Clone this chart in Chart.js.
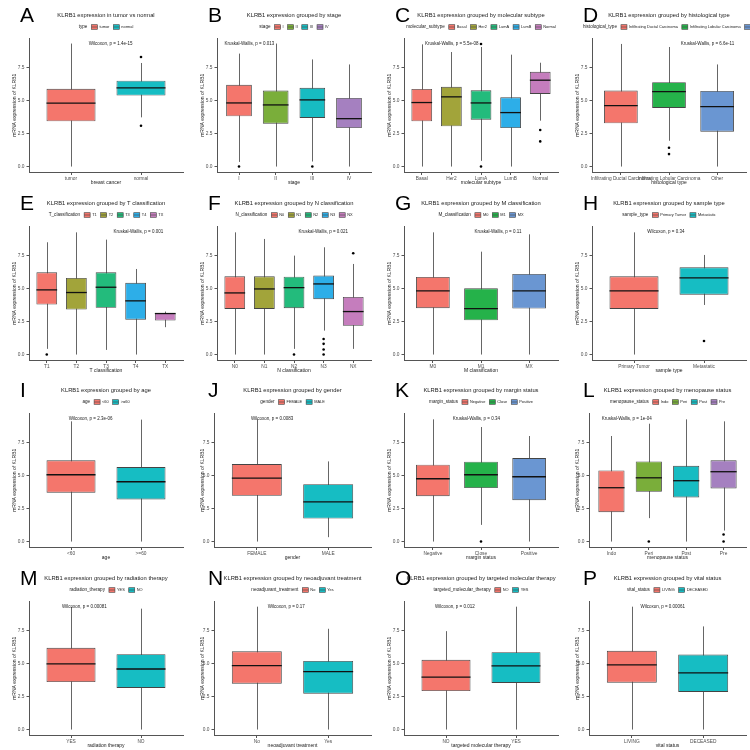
<!DOCTYPE html>
<html>
<head>
<meta charset="utf-8">
<script src="https://cdn.jsdelivr.net/npm/chart.js@4.4.0/dist/chart.umd.min.js"></script>
<style>
  body { margin: 0; background: #fff; }
  #grid { position: relative; width: 750px; height: 750px; overflow: hidden; }
  .panel { position: absolute; width: 188px; height: 188px; }
</style>
</head>
<body>
<div id="grid"></div>
<script>
// five-number summaries: [lower whisker, Q1, median, Q3, upper whisker]
const yTicks = [0, 2.5, 5, 7.5];

const catsA = ['tumor', 'normal'];
const boxA = [[0, 3.42, 4.79, 5.88, 9.3], [3.72, 5.37, 5.95, 6.49, 7.83]];
const outA = [[], [8.28, 3.09]];

const catsB = ['I', 'II', 'III', 'IV'];
const boxB = [[0.35, 3.8, 4.81, 6.18, 8.54], [0, 3.24, 4.66, 5.75, 9.3], [0.38, 3.67, 5.04, 5.95, 8.1], [0, 2.91, 3.62, 5.19, 7.72]];
const outB = [[0], [], [0], []];

const catsC = ['Basal', 'Her2', 'LumA', 'LumB', 'Normal'];
const boxC = [[0, 3.42, 4.84, 5.87, 9.24], [0, 3.04, 5.27, 6.03, 8.66], [0.43, 3.54, 4.81, 5.77, 9.04], [0, 2.91, 4.08, 5.24, 8.46], [3.47, 5.49, 6.53, 7.16, 7.85]];
const outC = [[], [], [9.27, 0], [], [2.76, 1.9]];

const catsD = ['Infiltrating Ductal Carcinoma', 'Infiltrating Lobular Carcinoma', 'Other'];
const boxD = [[0, 3.27, 4.61, 5.75, 9.27], [1.95, 4.43, 5.67, 6.38, 9.04], [0, 2.63, 4.53, 5.72, 7.72]];
const outD = [[], [1.42, 0.94], []];

const catsE = ['T1', 'T2', 'T3', 'T4', 'TX'];
const boxE = [[0.43, 3.78, 4.89, 6.22, 8.49], [0, 3.4, 4.69, 5.79, 9.24], [0.35, 3.53, 5.09, 6.22, 8.69], [0, 2.64, 4.06, 5.42, 6.47], [2.07, 2.57, 3.1, 3.15, 3.25]];
const outE = [[0], [], [], [], []];

const catsF = ['N0', 'N1', 'N2', 'N3', 'NX'];
const boxF = [[0, 3.45, 4.66, 5.92, 9.24], [0, 3.45, 4.96, 5.92, 8.74], [0.43, 3.5, 5.06, 5.89, 7.48], [1.81, 4.18, 5.34, 5.97, 8.11], [0.43, 2.17, 3.25, 4.36, 6.85]];
const outF = [[], [], [0], [1.18, 0.81, 0.38, 0], [7.66]];

const catsG = ['M0', 'M1', 'MX'];
const boxG = [[0, 3.5, 4.81, 5.87, 9.24], [0, 2.59, 3.48, 5.01, 7.78], [0, 3.48, 4.81, 6.1, 9.09]];
const outG = [[], [], []];

const catsH = ['Primary Tumor', 'Metastatic'];
const boxH = [[0, 3.45, 4.81, 5.92, 9.24], [3.75, 4.53, 5.79, 6.6, 7.53]];
const outH = [[], [1.03]];

const catsI = ['<60', '>=60'];
const boxI = [[0, 3.69, 5.05, 6.14, 9.09], [0, 3.18, 4.52, 5.63, 9.22]];
const outI = [[], []];

const catsJ = ['FEMALE', 'MALE'];
const boxJ = [[0, 3.46, 4.8, 5.86, 9.24], [0.33, 1.74, 3.0, 4.34, 6.06]];
const outJ = [[], []];

const catsK = ['Negative', 'Close', 'Positive'];
const boxK = [[0, 3.43, 4.75, 5.81, 9.24], [1.26, 4.04, 5.05, 6.04, 8.66], [0, 3.13, 4.9, 6.31, 7.98]];
const outK = [[], [0], []];

const catsL = ['Indo', 'Peri', 'Post', 'Pre'];
const boxL = [[0, 2.22, 4.07, 5.38, 7.98], [1.77, 3.76, 4.82, 6.06, 8.91], [0, 3.33, 4.6, 5.73, 9.24], [0.83, 4.02, 5.28, 6.14, 9.09]];
const outL = [[], [0], [], [0.53, 0]];

const catsM = ['YES', 'NO'];
const boxM = [[0, 3.59, 4.96, 6.18, 9.27], [0, 3.14, 4.58, 5.7, 9.14]];
const outM = [[], []];

const catsN = ['No', 'Yes'];
const boxN = [[0, 3.47, 4.84, 5.92, 9.29], [0, 2.71, 4.38, 5.19, 7.62]];
const outN = [[], []];

const catsO = ['NO', 'YES'];
const boxO = [[0, 2.91, 3.97, 5.27, 7.44], [0, 3.52, 4.81, 5.85, 9.29]];
const outO = [[], []];

const catsP = ['LIVING', 'DECEASED'];
const boxP = [[0, 3.54, 4.89, 5.95, 9.29], [0, 2.84, 4.28, 5.67, 7.8]];
const outP = [[], []];

// palettes (ggplot hue)
const pal2 = ['#F4766C', '#16BDC3'];
const pal3 = ['#F4766C', '#25B24A', '#6A96D2'];
const pal4 = ['#F4766C', '#7AAE3A', '#17BCC2', '#A580C0'];
const pal5 = ['#F4766C', '#A2A43A', '#23BB7C', '#2DAEE8', '#C57DBD'];

const panels = [
  { letter: 'A', title: 'KLRB1 expression in tumor vs normal', leg: 'type', xTitle: 'breast cancer', p: 'Wilcoxon, p = 1.4e-15', px: 0.53, cats: catsA, box: boxA, out: outA, pal: pal2 },
  { letter: 'B', title: 'KLRB1 expression grouped by stage', leg: 'stage', xTitle: 'stage', p: 'Kruskal-Wallis, p = 0.013', px: 0.21, cats: catsB, box: boxB, out: outB, pal: pal4 },
  { letter: 'C', title: 'KLRB1 expression grouped by molecular subtype', leg: 'molecular_subtype', xTitle: 'molecular subtype', p: 'Kruskal-Wallis, p = 5.5e-08', px: 0.31, cats: catsC, box: boxC, out: outC, pal: pal5 },
  { letter: 'D', title: 'KLRB1 expression grouped by histological type', leg: 'histological_type', xTitle: 'histological type', p: 'Kruskal-Wallis, p = 6.6e-11', px: 0.75, cats: catsD, box: boxD, out: outD, pal: pal3 },
  { letter: 'E', title: 'KLRB1 expression grouped by T classification', leg: 'T_classification', xTitle: 'T classification', p: 'Kruskal-Wallis, p = 0.001', px: 0.71, cats: catsE, box: boxE, out: outE, pal: pal5 },
  { letter: 'F', title: 'KLRB1 expression grouped by N classification', leg: 'N_classification', xTitle: 'N classification', p: 'Kruskal-Wallis, p = 0.021', px: 0.69, cats: catsF, box: boxF, out: outF, pal: pal5 },
  { letter: 'G', title: 'KLRB1 expression grouped by M classification', leg: 'M_classification', xTitle: 'M classification', p: 'Kruskal-Wallis, p = 0.11', px: 0.61, cats: catsG, box: boxG, out: outG, pal: pal3 },
  { letter: 'H', title: 'KLRB1 expression grouped by sample type', leg: 'sample_type', xTitle: 'sample type', p: 'Wilcoxon, p = 0.34', px: 0.48, cats: catsH, box: boxH, out: outH, pal: pal2 },
  { letter: 'I', title: 'KLRB1 expression grouped by age', leg: 'age', xTitle: 'age', p: 'Wilcoxon, p = 2.3e-06', px: 0.40, cats: catsI, box: boxI, out: outI, pal: pal2 },
  { letter: 'J', title: 'KLRB1 expression grouped by gender', leg: 'gender', xTitle: 'gender', p: 'Wilcoxon, p = 0.0083', px: 0.37, cats: catsJ, box: boxJ, out: outJ, pal: pal2 },
  { letter: 'K', title: 'KLRB1 expression grouped by margin status', leg: 'margin_status', xTitle: 'margin status', p: 'Kruskal-Wallis, p = 0.34', px: 0.47, cats: catsK, box: boxK, out: outK, pal: pal3 },
  { letter: 'L', title: 'KLRB1 expression grouped by menopause status', leg: 'menopause_status', xTitle: 'menopause status', p: 'Kruskal-Wallis, p = 1e-04', px: 0.24, cats: catsL, box: boxL, out: outL, pal: pal4 },
  { letter: 'M', title: 'KLRB1 expression grouped by radiation therapy', leg: 'radiation_therapy', xTitle: 'radiation therapy', p: 'Wilcoxon, p = 0.00081', px: 0.36, cats: catsM, box: boxM, out: outM, pal: pal2 },
  { letter: 'N', title: 'KLRB1 expression grouped by neoadjuvant treatment', leg: 'neoadjuvant_treatment', xTitle: 'neoadjuvant treatment', p: 'Wilcoxon, p = 0.17', px: 0.46, cats: catsN, box: boxN, out: outN, pal: pal2 },
  { letter: 'O', title: 'KLRB1 expression grouped by targeted molecular therapy', leg: 'targeted_molecular_therapy', xTitle: 'targeted molecular therapy', p: 'Wilcoxon, p = 0.012', px: 0.33, cats: catsO, box: boxO, out: outO, pal: pal2 },
  { letter: 'P', title: 'KLRB1 expression grouped by vital status', leg: 'vital_status', xTitle: 'vital status', p: 'Wilcoxon, p = 0.00061', px: 0.47, cats: catsP, box: boxP, out: outP, pal: pal2 }
];

const FONT = '"Liberation Sans", Arial, Helvetica, sans-serif';
const AXIS = '#555';

function makeDecor(p) {
  return {
    id: 'decor',
    beforeDatasetsDraw(chart) {
      // whiskers
      const ctx = chart.ctx, x = chart.scales.x, y = chart.scales.y;
      ctx.save();
      ctx.strokeStyle = '#666';
      ctx.lineWidth = 1;
      p.box.forEach((b, i) => {
        const px = Math.round(x.getPixelForValue(i + 1)) + 0.5;
        ctx.beginPath();
        ctx.moveTo(px, y.getPixelForValue(b[0]));
        ctx.lineTo(px, y.getPixelForValue(b[4]));
        ctx.stroke();
      });
      ctx.restore();
    },
    afterDatasetsDraw(chart) {
      // medians
      const ctx = chart.ctx, y = chart.scales.y;
      const bars = chart.getDatasetMeta(0).data;
      ctx.save();
      ctx.strokeStyle = '#111';
      ctx.lineWidth = 1.3;
      p.box.forEach((b, i) => {
        const bar = bars[i];
        const py = y.getPixelForValue(b[2]);
        ctx.beginPath();
        ctx.moveTo(bar.x - bar.width / 2, py);
        ctx.lineTo(bar.x + bar.width / 2, py);
        ctx.stroke();
      });
      ctx.restore();
    },
    afterDraw(chart) {
      const ctx = chart.ctx, area = chart.chartArea, y = chart.scales.y;
      const cx = (area.left + area.right) / 2;
      ctx.save();
      ctx.fillStyle = '#000';
      // panel letter
      ctx.font = '21px ' + FONT;
      ctx.textAlign = 'left';
      ctx.textBaseline = 'alphabetic';
      ctx.fillText(p.letter, 20, 22);
      // title
      ctx.font = '5.8px ' + FONT;
      ctx.textAlign = 'center';
      ctx.textBaseline = 'middle';
      ctx.fillStyle = '#1a1a1a';
      ctx.fillText(p.title, cx, 15.5);
      // legend
      const titleFont = '4.6px ' + FONT, labFont = '3.9px ' + FONT;
      ctx.font = titleFont;
      const tw = ctx.measureText(p.leg).width;
      ctx.font = labFont;
      const widths = p.cats.map(c => ctx.measureText(c).width);
      const keyW = 6, gapT = 4, gapK = 2, gapI = 4;
      let total = tw + gapT;
      widths.forEach(w => { total += keyW + gapK + w + gapI; });
      total -= gapI;
      let lx = Math.max(area.left - 9, cx - total / 2);
      const ly = 27;
      ctx.textAlign = 'left';
      ctx.font = titleFont;
      ctx.fillText(p.leg, lx, ly);
      lx += tw + gapT;
      ctx.font = labFont;
      p.cats.forEach((c, i) => {
        ctx.fillStyle = p.pal[i];
        ctx.fillRect(lx, ly - 2.3, keyW, 4.6);
        ctx.strokeStyle = '#444';
        ctx.lineWidth = 0.6;
        ctx.strokeRect(lx, ly - 2.3, keyW, 4.6);
        ctx.beginPath();
        ctx.moveTo(lx, ly);
        ctx.lineTo(lx + keyW, ly);
        ctx.stroke();
        lx += keyW + gapK;
        ctx.fillStyle = '#1a1a1a';
        ctx.fillText(c, lx, ly);
        lx += widths[i] + gapI;
      });
      // test annotation
      ctx.font = '4.5px ' + FONT;
      ctx.textAlign = 'center';
      ctx.fillStyle = '#1a1a1a';
      ctx.fillText(p.p, area.left + p.px * (area.right - area.left), y.getPixelForValue(9.3));
      ctx.restore();
    }
  };
}

const grid = document.getElementById('grid');
panels.forEach((p, k) => {
  const row = Math.floor(k / 4), col = k % 4;
  const div = document.createElement('div');
  div.className = 'panel';
  div.style.left = Math.round(col * 187.5) + 'px';
  div.style.top = Math.round(row * 187.5) + 'px';
  const canvas = document.createElement('canvas');
  div.appendChild(canvas);
  grid.appendChild(div);

  const plotLeft = (row >= 2 && col % 2 === 1) ? 26 : 29;
  const n = p.cats.length;
  const outPts = [];
  p.out.forEach((vals, i) => vals.forEach(v => outPts.push({ x: i + 1, y: v })));

  new Chart(canvas, {
    type: 'bar',
    data: {
      datasets: [{
        type: 'bar',
        data: p.box.map((b, i) => ({ x: i + 1, y: [b[1], b[3]] })),
        backgroundColor: p.pal,
        borderColor: '#444',
        borderWidth: 0.9,
        borderSkipped: false,
        barPercentage: 0.7,
        categoryPercentage: 1,
        order: 2
      }, {
        type: 'line',
        data: outPts,
        showLine: false,
        pointRadius: 1.3,
        pointBackgroundColor: '#000',
        pointBorderWidth: 0,
        order: 1
      }]
    },
    options: {
      responsive: true,
      maintainAspectRatio: false,
      animation: false,
      layout: { padding: { top: 38, right: 5, left: 0, bottom: 0 } },
      plugins: {
        legend: { display: false },
        title: { display: false },
        tooltip: { enabled: false }
      },
      scales: {
        x: {
          type: 'linear',
          min: 0.4,
          max: n + 0.6,
          offset: false,
          afterBuildTicks: s => { s.ticks = p.cats.map((c, i) => ({ value: i + 1 })); },
          grid: { display: true, offset: false, drawOnChartArea: false, drawTicks: true, tickLength: 2.5, color: AXIS },
          border: { display: true, color: AXIS, width: 1 },
          ticks: { font: { family: FONT, size: 4.8 }, color: '#4d4d4d', padding: 0.5, minRotation: 0, maxRotation: 0, autoSkip: false, callback: v => p.cats[Math.round(v) - 1] },
          title: { display: true, text: p.xTitle, font: { family: FONT, size: 5 }, color: '#1a1a1a', padding: { top: 0, bottom: 2 } },
          afterFit: s => { s.height = 15.5; s.paddingLeft = 0; s.paddingRight = 0; }
        },
        y: {
          min: -0.45,
          max: 9.72,
          afterBuildTicks: s => { s.ticks = yTicks.map(v => ({ value: v })); },
          grid: { display: true, drawOnChartArea: false, drawTicks: true, tickLength: 2.5, color: AXIS },
          border: { display: true, color: AXIS, width: 1 },
          ticks: { font: { family: FONT, size: 4.8 }, color: '#4d4d4d', padding: 2, callback: v => Number(v).toFixed(1) },
          title: { display: true, text: 'mRNA expression of KLRB1', font: { family: FONT, size: 5 }, color: '#1a1a1a', padding: { top: 12, bottom: 0 } },
          afterFit: s => { s.width = plotLeft; s.paddingTop = 0; s.paddingBottom = 0; }
        }
      }
    },
    plugins: [makeDecor(p)]
  });
});
</script>
</body>
</html>
